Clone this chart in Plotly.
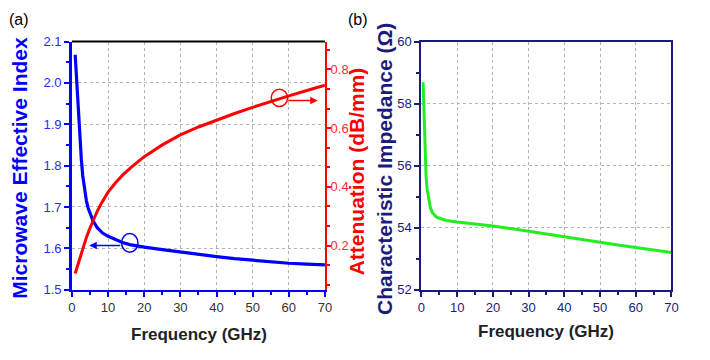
import plotly.graph_objects as go

# ---------------- data ----------------
freq_idx = [0.9, 1.3, 1.7, 2.2, 2.6, 3.0, 3.5, 4.0, 4.5, 5.0, 5.8, 7, 8.5, 10, 12, 14,
            16, 18.4, 20, 25, 30, 35, 40, 45, 50, 55, 60, 65, 70]
eff_index = [2.068, 2.00, 1.94, 1.865, 1.815, 1.775, 1.740, 1.715, 1.697, 1.684, 1.667,
             1.650, 1.637, 1.629, 1.621, 1.614, 1.609, 1.605, 1.603, 1.597, 1.591,
             1.585, 1.580, 1.575, 1.571, 1.567, 1.564, 1.562, 1.560]

freq_att = [0.9, 1.5, 2, 3, 4, 5, 6, 7, 8, 9, 10, 12, 14, 16.6, 20, 25, 30, 35, 40, 45,
            50, 55, 60, 65, 70]
attenuation = [0.105, 0.13, 0.152, 0.192, 0.228, 0.26, 0.29, 0.317, 0.341, 0.363,
               0.382, 0.413, 0.44, 0.469, 0.503, 0.543, 0.577, 0.604, 0.628, 0.65,
               0.671, 0.691, 0.71, 0.728, 0.746]

freq_z = [0.46, 0.6, 0.75, 0.9, 1.1, 1.3, 1.6, 2.0, 2.5, 3.0, 3.5, 4.0, 4.8, 6, 7, 10,
          15, 20, 25, 30, 35, 40, 45, 50, 55, 60, 65, 70]
impedance = [58.69, 58.1, 57.5, 56.8, 56.06, 55.65, 55.24, 54.9, 54.65, 54.5, 54.42,
             54.36, 54.31, 54.26, 54.23, 54.18, 54.12, 54.05, 53.97, 53.88, 53.78,
             53.69, 53.60, 53.52, 53.44, 53.36, 53.28, 53.20]

x_ticks = [0, 10, 20, 30, 40, 50, 60, 70]
idx_ticks = [1.5, 1.6, 1.7, 1.8, 1.9, 2.0, 2.1]
att_ticks = [0.2, 0.4, 0.6, 0.8]
att_minor = [0.0667, 0.1333, 0.2667, 0.3333, 0.4667, 0.5333, 0.6667, 0.7333, 0.8667]
z_ticks = [52, 54, 56, 58, 60]

# ---------------- styles ----------------
W, H = 710, 360
BLUE = "#0000ff"
BLUE_TXT = "#2a2aff"
RED = "#ff0000"
RED_TXT = "#ff2a2a"
NAVY = "#1b1b7d"
GREEN = "#22ee22"
GRID = "#b4b4b4"
FONT = "Liberation Sans, Arial, sans-serif"


def px_x(p):
    return p / W


def px_y(p):
    return 1 - p / H


dom_a = [px_x(69), px_x(326)]
dom_b = [px_x(424), px_x(678)]
dom_y = [px_y(295), px_y(36)]

fig = go.Figure()
fig.add_trace(go.Scatter(x=freq_idx, y=eff_index, mode="lines",
                         line=dict(color=BLUE, width=3.2),
                         xaxis="x", yaxis="y", showlegend=False))
fig.add_trace(go.Scatter(x=freq_att, y=attenuation, mode="lines",
                         line=dict(color=RED, width=3),
                         xaxis="x", yaxis="y2", showlegend=False))
fig.add_trace(go.Scatter(x=freq_z, y=impedance, mode="lines",
                         line=dict(color=GREEN, width=3),
                         xaxis="x2", yaxis="y3", showlegend=False))

common_x = dict(range=[0, 70], tickvals=x_ticks, ticks="outside", ticklen=5,
                tickwidth=1.5, showline=True, linewidth=2, showgrid=True,
                gridcolor=GRID, griddash="dot", gridwidth=1, zeroline=False,
                minor=dict(dtick=5, tick0=0, ticks="outside", ticklen=3, showgrid=False))

fig.update_layout(
    width=W, height=H, autosize=False,
    margin=dict(l=0, r=0, t=0, b=0),
    paper_bgcolor="white", plot_bgcolor="white",
    xaxis=dict(domain=dom_a, anchor="y", linecolor=BLUE, tickcolor=BLUE,
               tickfont=dict(family=FONT, size=13, color="#333333"), **common_x),
    yaxis=dict(domain=dom_y, anchor="x", range=[1.5, 2.1], tickvals=idx_ticks,
               tickformat=".1f", ticks="outside", ticklen=5, tickwidth=1.5,
               tickcolor=BLUE, showline=True, linewidth=2.5, linecolor=BLUE,
               showgrid=True, gridcolor=GRID, griddash="dot", zeroline=False,
               tickfont=dict(family=FONT, size=13, color=BLUE_TXT),
               minor=dict(dtick=0.05, tick0=1.5, ticks="outside", ticklen=3,
                          showgrid=False)),
    yaxis2=dict(overlaying="y", side="right", anchor="x", range=[0.05, 0.895],
                tickvals=att_ticks, tickformat=".1f", ticks="outside", ticklen=4,
                tickwidth=1.5, tickcolor=RED, showline=True, linewidth=2,
                linecolor=RED, showgrid=False, zeroline=False, ticklabelstandoff=-3,
                tickfont=dict(family=FONT, size=13, color=RED_TXT),
                minor=dict(tickvals=att_minor, ticks="outside", ticklen=3,
                           showgrid=False)),
    xaxis2=dict(domain=dom_b, anchor="y3", linecolor=NAVY, tickcolor=NAVY, mirror=True,
                tickfont=dict(family=FONT, size=13, color=NAVY), **common_x),
    yaxis3=dict(domain=dom_y, anchor="x2", range=[52, 60], tickvals=z_ticks,
                ticks="outside", ticklen=5, tickwidth=1.5, tickcolor=NAVY,
                showline=True, linewidth=2, linecolor=NAVY, mirror=True,
                showgrid=True, gridcolor=GRID, griddash="dot", zeroline=False,
                tickfont=dict(family=FONT, size=13, color=NAVY),
                minor=dict(dtick=1, tick0=52, ticks="outside", ticklen=3,
                           showgrid=False)),
)

# top border of panel (a)
fig.add_shape(type="line", xref="x domain", yref="y domain", x0=0, x1=1, y0=1, y1=1,
              line=dict(color="black", width=2))

# circles marking curves
fig.add_shape(type="circle", xref="x", yref="y", x0=16 - 2.26, x1=16 + 2.26,
              y0=1.613 - 0.0226, y1=1.613 + 0.0226, line=dict(color=BLUE, width=1.5))
fig.add_shape(type="circle", xref="x", yref="y2", x0=57.4 - 2.26, x1=57.4 + 2.26,
              y0=0.703 - 0.0293, y1=0.703 + 0.0293, line=dict(color=RED, width=1.5))

# arrows
fig.add_annotation(x=4.8, y=1.607, ax=13.8, ay=1.607, xref="x", yref="y",
                   axref="x", ayref="y", text="", showarrow=True, arrowhead=2,
                   arrowsize=1, arrowwidth=1.5, arrowcolor=BLUE)
fig.add_annotation(x=68.0, y=0.694, ax=59.4, ay=0.694, xref="x", yref="y2",
                   axref="x", ayref="y2", text="", showarrow=True, arrowhead=2,
                   arrowsize=1, arrowwidth=1.5, arrowcolor=RED)


def title(text, x, y, color, size, angle=0, bold=True):
    t = f"<b>{text}</b>" if bold else text
    fig.add_annotation(text=t, x=px_x(x), y=px_y(y), xref="paper",
                       yref="paper", showarrow=False, textangle=angle,
                       xanchor="center", yanchor="middle",
                       font=dict(family=FONT, size=size, color=color))


title("Microwave Effective Index", 15, 168, BLUE, 21, -90)
title("Attenuation (dB/mm)", 358, 171, RED, 21, -90)
title("Characteristic Impedance (Ω)", 387, 169, NAVY, 21, -90)
title("Frequency (GHz)", 198, 342, "#222222", 17)
title("Frequency (GHz)", 551, 339, "#222222", 17)
title("(a)", 15, 13, "black", 16, bold=False)
title("(b)", 360, 13, "black", 16, bold=False)

fig.write_html("out.html", config={"displayModeBar": False},
               post_script="document.body.style.margin='0';")
